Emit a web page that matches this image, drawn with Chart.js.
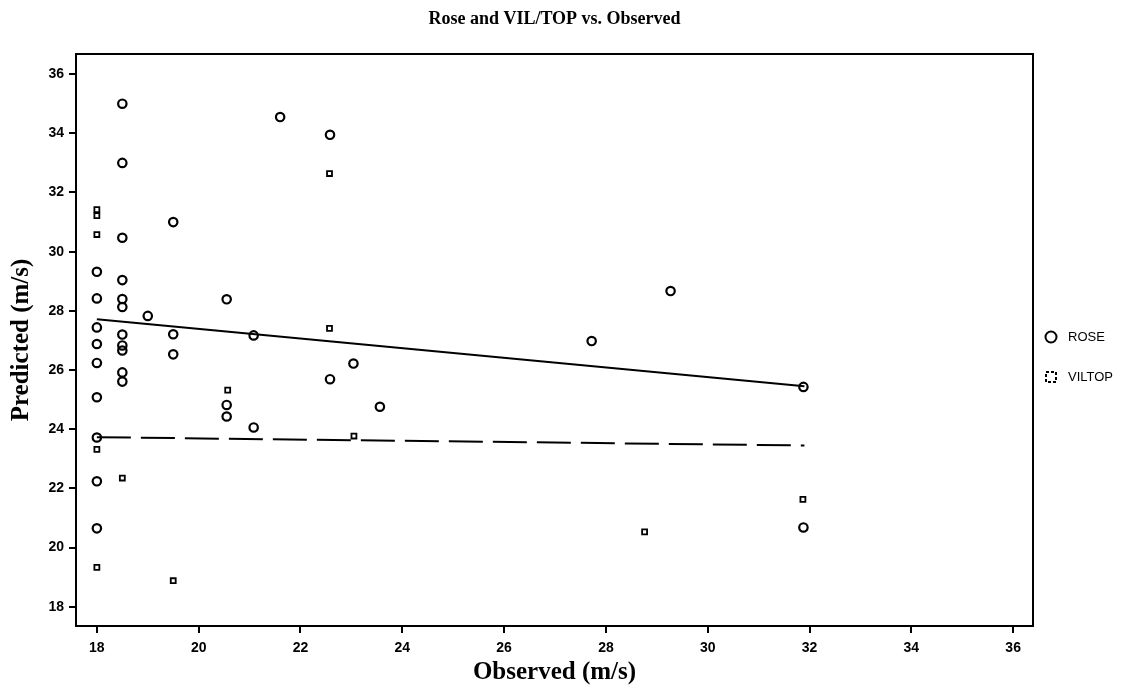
<!DOCTYPE html>
<html>
<head>
<meta charset="utf-8">
<script src="https://cdn.jsdelivr.net/npm/chart.js@4.4.0/dist/chart.umd.min.js"></script>
<style>
    html, body { margin: 0; padding: 0; background: #fff; }
    #wrap { width: 1123px; height: 692px; }
</style>
</head>
<body>
<div id="wrap"><canvas id="chart"></canvas></div>
<script>
// tick labels
const xTicks = [18, 20, 22, 24, 26, 28, 30, 32, 34, 36];
const yTicks = [18, 20, 22, 24, 26, 28, 30, 32, 34, 36];

// ROSE predictions vs observed
const roseX = [18, 18, 18, 18, 18, 18, 18, 18, 18,
               18.5, 18.5, 18.5, 18.5, 18.5, 18.5, 18.5, 18.5, 18.5, 18.5, 18.5,
               19.0, 19.5, 19.5, 19.5, 20.55, 20.55, 20.55, 21.08, 21.08,
               21.6, 22.58, 22.58, 23.04, 23.56, 27.72, 29.27, 31.88, 31.88];
const roseY = [29.32, 28.42, 27.44, 26.88, 26.24, 25.08, 23.72, 22.24, 20.65,
               35.0, 33.0, 30.47, 29.04, 28.4, 28.13, 27.2, 26.83, 26.66, 25.92, 25.61,
               27.83, 31.0, 27.21, 26.53, 28.39, 24.82, 24.43, 27.17, 24.06,
               34.55, 33.95, 25.69, 26.22, 24.76, 26.98, 28.67, 25.43, 20.68];

// VIL/TOP predictions vs observed
const vilX = [18, 18, 18, 18, 18, 18.5, 19.5, 20.57, 22.57, 22.57, 23.05, 28.76, 31.87];
const vilY = [31.42, 31.22, 30.58, 23.32, 19.33, 22.35, 18.88, 25.32, 32.64, 27.41, 23.77, 20.53, 21.63];

// fitted lines (end points)
const roseFitX = [18, 31.9];
const roseFitY = [27.72, 25.45];
const vilFitX = [18, 31.9];
const vilFitY = [23.73, 23.45];

const toPts = (xs, ys) => xs.map((x, i) => ({ x: x, y: ys[i] }));

const frame = {
    id: 'frame',
    afterDraw(chart) {
        const { ctx, chartArea } = chart;
        ctx.save();
        ctx.strokeStyle = '#000';
        ctx.lineWidth = 2;
        ctx.strokeRect(chartArea.left, chartArea.top, chartArea.right - chartArea.left, chartArea.bottom - chartArea.top);

        // title
        ctx.fillStyle = '#000';
        ctx.font = 'bold 18px "Liberation Serif"';
        ctx.textAlign = 'center';
        ctx.textBaseline = 'middle';
        ctx.fillText('Rose and VIL/TOP vs. Observed', (chartArea.left + chartArea.right) / 2, 19);

        // legend
        const lx = chartArea.right + 18;
        const mid = (chartArea.top + chartArea.bottom) / 2;
        ctx.lineWidth = 2;
        ctx.beginPath();
        ctx.arc(lx, mid - 3, 5.5, 0, Math.PI * 2);
        ctx.stroke();
        ctx.setLineDash([3, 2]);
        ctx.strokeRect(lx - 5, mid + 32, 10, 10);
        ctx.setLineDash([]);
        ctx.font = '13px "Liberation Sans"';
        ctx.textAlign = 'left';
        ctx.fillText('ROSE', lx + 17, mid - 3);
        ctx.fillText('VILTOP', lx + 17, mid + 37);
        ctx.restore();
    }
};

const ctx = document.getElementById('chart').getContext('2d');
new Chart(ctx, {
    type: 'scatter',
    data: {
        datasets: [
            {
                label: 'ROSE',
                data: toPts(roseX, roseY),
                pointStyle: 'circle',
                pointRadius: 4.2,
                pointBorderWidth: 2.2,
                pointBorderColor: '#000',
                pointBackgroundColor: 'rgba(0,0,0,0)'
            },
            {
                label: 'VILTOP',
                data: toPts(vilX, vilY),
                pointStyle: 'rect',
                pointRadius: 3.5,
                pointBorderWidth: 1.8,
                pointBorderColor: '#000',
                pointBackgroundColor: 'rgba(0,0,0,0)'
            },
            {
                label: 'ROSE fit',
                type: 'line',
                data: toPts(roseFitX, roseFitY),
                borderColor: '#000',
                borderWidth: 2,
                pointRadius: 0
            },
            {
                label: 'VILTOP fit',
                type: 'line',
                data: toPts(vilFitX, vilFitY),
                borderColor: '#000',
                borderWidth: 2,
                borderDash: [34, 10],
                pointRadius: 0
            }
        ]
    },
    options: {
        responsive: true,
        maintainAspectRatio: false,
        animation: false,
        layout: { padding: { top: 54, right: 90, left: 0, bottom: 0 } },
        plugins: {
            legend: { display: false },
            tooltip: { enabled: false }
        },
        scales: {
            x: {
                type: 'linear',
                min: 17.59,
                max: 36.39,
                afterBuildTicks: (s) => { s.ticks = xTicks.map(v => ({ value: v })); },
                afterFit: (s) => { s.height = 66; },
                border: { display: false },
                grid: { drawOnChartArea: false, drawTicks: true, tickLength: 7, color: '#000', lineWidth: 2 },
                ticks: { color: '#000', padding: 7, font: { family: 'Liberation Sans', size: 14, weight: 'bold' } },
                title: {
                    display: true,
                    text: 'Observed (m/s)',
                    color: '#000',
                    padding: { top: 0 },
                    font: { family: 'Liberation Serif', size: 25, weight: 'bold' }
                }
            },
            y: {
                type: 'linear',
                min: 17.35,
                max: 36.68,
                afterBuildTicks: (s) => { s.ticks = yTicks.map(v => ({ value: v })); },
                afterFit: (s) => { s.width = 76; },
                border: { display: false },
                grid: { drawOnChartArea: false, drawTicks: true, tickLength: 7, color: '#000', lineWidth: 2 },
                ticks: { color: '#000', padding: 5, font: { family: 'Liberation Sans', size: 14, weight: 'bold' } },
                title: {
                    display: true,
                    text: 'Predicted (m/s)',
                    color: '#000',
                    padding: { top: 7, bottom: 0 },
                    font: { family: 'Liberation Serif', size: 25, weight: 'bold' }
                }
            }
        }
    },
    plugins: [frame]
});
</script>
</body>
</html>
